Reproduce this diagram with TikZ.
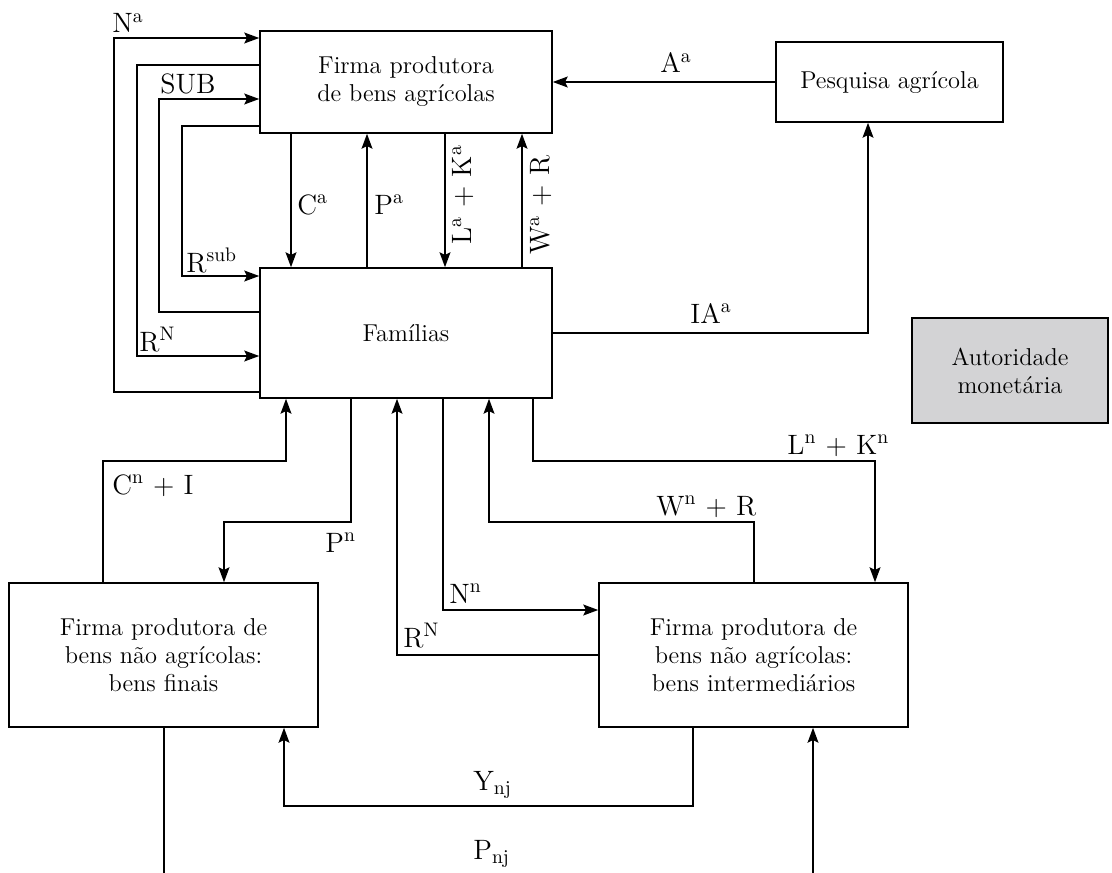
\documentclass[tikz,border=0pt]{standalone}
\usetikzlibrary{arrows.meta}
\definecolor{autgray}{RGB}{211,211,213}
\begin{document}
\begin{tikzpicture}[x=0.5pt,y=-0.5pt,
  box/.style={draw, line width=0.8pt, align=center, inner sep=0pt,
    font=\fontsize{12.2}{14}\selectfont},
  lbl/.style={inner sep=0pt, font=\fontsize{14}{16}\selectfont},
  conn/.style={line width=0.65pt},
  arr/.style={conn, -{Stealth[length=7.5pt,width=5.5pt,inset=1.4pt]}}]
\useasboundingbox (0,0) rectangle (1112,872);
\clip (0,0) rectangle (1112,872);
% boxes
\node[box, minimum width=146pt, minimum height=51pt] (fa) at (406,82) {Firma produtora\\de bens agrícolas};
\node[box, minimum width=146pt, minimum height=65pt] (fam) at (406,333) {Famílias};
\node[box, minimum width=113.5pt, minimum height=40pt] (pa) at (889.5,82) {Pesquisa agrícola};
\node[box, fill=autgray, minimum width=98pt, minimum height=52.5pt] (am) at (1010,370.5) {Autoridade\\monetária};
\node[box, minimum width=154.5pt, minimum height=72pt] (fb) at (163.5,655) {Firma produtora de\\bens não agrícolas:\\bens finais};
\node[box, minimum width=154.5pt, minimum height=72pt] (fi) at (753.5,655) {Firma produtora de\\bens não agrícolas:\\bens intermediários};
% left loops
\draw[arr] (fam.west |- 0,392) -| (114,38) -- (fa.west |- 0,38);
\draw[arr] (fa.west |- 0,65) -| (137,356) -- (fam.west |- 0,356);
\draw[arr] (fam.west |- 0,312) -| (159,99) -- (fa.west |- 0,99);
\draw[arr] (fa.west |- 0,126) -| (182,276) -- (fam.west |- 0,276);
\node[lbl, anchor=base west] (lna) at (112,33) {N\textsuperscript{a}};
\node[lbl, anchor=base west] (lrn1) at (139,351) {R\textsuperscript{N}};
\node[lbl, anchor=base west] (lsub) at (160,94) {SUB};
\node[lbl, anchor=base west] (lrsub) at (186,272) {R\textsuperscript{sub}};
% verticals between fa and fam
\draw[arr] (fa.south -| 291,0) -- (fam.north -| 291,0);
\draw[arr] (fam.north -| 367,0) -- (fa.south -| 367,0);
\draw[arr] (fa.south -| 445,0) -- (fam.north -| 445,0);
\draw[arr] (fam.north -| 522,0) -- (fa.south -| 522,0);
\node[lbl, anchor=base west] (lca) at (297,214) {C\textsuperscript{a}};
\node[lbl, anchor=base west] (lpa) at (374,214) {P\textsuperscript{a}};
\node[lbl, rotate=90] (llk) at (463,195) {L\textsuperscript{a} + K\textsuperscript{a}};
\node[lbl, rotate=90] (lwr) at (541,205) {W\textsuperscript{a} + R};
% research
\draw[arr] (pa.west) -- (fa.east |- pa.west);
\draw[arr] (fam.east) -| (pa.south -| 868,0);
\node[lbl, anchor=base west] (laa) at (660,73) {A\textsuperscript{a}};
\node[lbl, anchor=base west] (lia) at (690,323) {IA\textsuperscript{a}};
% below families
\draw[arr] (fi.west) -| (fam.south -| 397,0);
\draw[arr] (fam.south -| 443,0) |- (fi.west |- 0,610);
\draw[arr] (fi.north -| 754,0) |- (489,522) -- (fam.south -| 489,0);
\draw[arr] (fam.south -| 533,0) |- (875,461) -- (fi.north -| 875,0);
\draw[arr] (fb.north -| 103,0) |- (286,461) -- (fam.south -| 286,0);
\draw[arr] (fam.south -| 351,0) |- (224,522) -- (fb.north -| 224,0);
\node[lbl, anchor=base west] (lrn2) at (403,647) {R\textsuperscript{N}};
\node[lbl, anchor=base west] (lnn) at (449,603) {N\textsuperscript{n}};
\node[lbl, anchor=base west] (lwn) at (656,515) {W\textsuperscript{n} + R};
\node[lbl, anchor=base west] (lln) at (787,454) {L\textsuperscript{n} + K\textsuperscript{n}};
\node[lbl, anchor=base west] (lcn) at (112,494) {C\textsuperscript{n} + I};
\node[lbl, anchor=base west] (lpn) at (325,552) {P\textsuperscript{n}};
% bottom
\draw[arr] (fi.south -| 693,0) |- (284,806) -- (fb.south -| 284,0);
\draw[arr] (fb.south -| 164,0) |- (813,900) -- (fi.south -| 813,0);
\node[lbl, anchor=base west] (lynj) at (473,790) {Y\textsubscript{nj}};
\node[lbl, anchor=base west] (lpnj) at (473,859) {P\textsubscript{nj}};
\end{tikzpicture}
\end{document}
